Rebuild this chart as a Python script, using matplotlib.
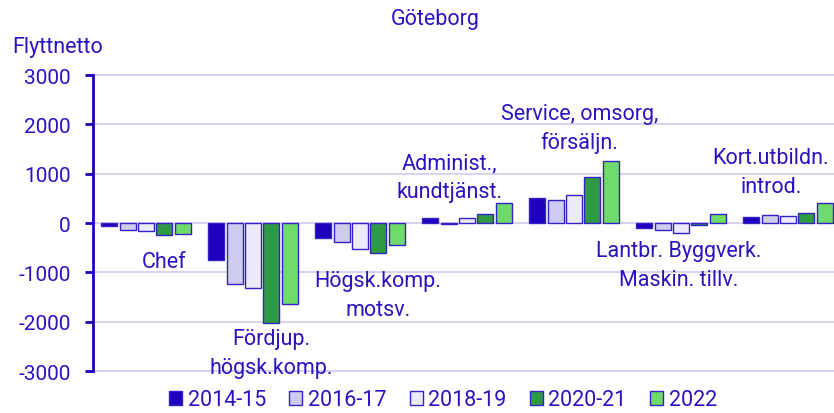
import numpy as np
import matplotlib
matplotlib.use("Agg")
import matplotlib.pyplot as plt

plt.rcParams['font.family'] = ['Roboto', 'DejaVu Sans']
plt.rcParams['axes.unicode_minus'] = False

series = ["2014-15", "2016-17", "2018-19", "2020-21", "2022"]
colors = ["#1E00BE", "#D0CCF0", "#ECEAFB", "#2E9A44", "#6EDB6A"]

v2014 = [-60, -745, -305, 100, 505, -100, 130]
v2016 = [-140, -1235, -380, -30, 465, -145, 160]
v2018 = [-170, -1320, -535, 100, 570, -210, 150]
v2020 = [-240, -2035, -610, 180, 925, -40, 200]
v2022 = [-215, -1650, -445, 405, 1250, 180, 400]
values = [v2014, v2016, v2018, v2020, v2022]

labels = ["Chef", "Fördjup.\nhögsk.komp.", "Högsk.komp.\nmotsv.",
          "Administ.,\nkundtjänst.", "Service, omsorg,\nförsäljn.",
          "Lantbr. Byggverk.\nMaskin. tillv.", "Kort.utbildn.\nintrod."]
label_x = [0.17, 1.17, 2.17, 2.84, 4.05, 4.98, 5.84]
label_y = [-770, -2635, -1460, 922, 1926, -851, 1034]

txt = "#2A14C0"
edge = "#3423C4"
fs = 15.5

fig = plt.figure(figsize=(8.34, 4.14), dpi=100)
ax = fig.add_axes([93/834, 0.0978, 1 - 93/834, 0.7222])

x = np.arange(len(labels))
step = 0.172
w = 0.15
for i in range(5):
    ax.bar(x + (i - 2) * step, values[i], w, color=colors[i], edgecolor=edge,
           linewidth=1, label=series[i], zorder=3)

ax.set_ylim(-3030, 3030)
ax.set_xlim(-0.495, 6.43)
ax.set_yticks(range(-3000, 3001, 1000))
ax.yaxis.grid(True, color="#D6D4F0", linewidth=1.5, zorder=0)
ax.set_axisbelow(True)
ax.set_xticks([])
for s in ["top", "right", "bottom"]:
    ax.spines[s].set_visible(False)
ax.spines["left"].set_color("#1E00BE")
ax.spines["left"].set_linewidth(2)
ax.spines["left"].set_bounds(-3000, 3000)
ax.tick_params(axis="y", colors="#1E00BE", labelcolor=txt, length=6, width=2,
               pad=10, labelsize=15)

for lx, ly, lb in zip(label_x, label_y, labels):
    ax.text(lx, ly, lb, ha="center", va="center", color=txt, fontsize=fs,
            linespacing=1.45, zorder=4)

fig.text(435/834, 1 - 20/414, "Göteborg", ha="center", va="center",
         color=txt, fontsize=fs)
fig.text(12/834, 1 - 48/414, "Flyttnetto", ha="left", va="center",
         color=txt, fontsize=fs)

leg = fig.legend(loc="center", bbox_to_anchor=(443/834, 1 - 401/414), ncol=5,
                 frameon=False, fontsize=fs, handlelength=0.6,
                 handleheight=0.6, handletextpad=0.25, columnspacing=1.1,
                 borderaxespad=0)
for t in leg.get_texts():
    t.set_color(txt)

fig.savefig("out.png", dpi=100)
